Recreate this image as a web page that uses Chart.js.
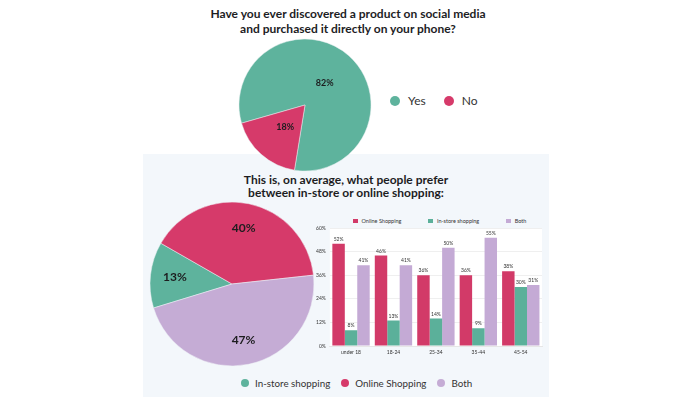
<!DOCTYPE html>
<html lang="en">
<head>
    <title>Social shopping</title>
    <script src="https://cdn.jsdelivr.net/npm/chart.js"></script>
    <style>
        body { margin: 0; background: #fff; font-family: Lato, sans-serif; color: #1d1d1f; }
        .box { position: absolute; }
        .title { position: absolute; text-align: center; font-weight: 700; }
        .legend { position: absolute; display: flex; align-items: center; color: #333; white-space: nowrap; }
        .legend span.dot { display: inline-block; }
    </style>
</head>
<body>
    <div class="box" style="left:143px;top:154px;width:406px;height:243px;background:#f3f7fb;"></div>

    <div class="title" style="left:148px;top:6px;width:400px;font-size:12px;line-height:15px;">
        Have you ever discovered a product on social media<br>and purchased it directly on your phone?
    </div>
    <div class="title" style="left:146px;top:173px;width:400px;font-size:12px;line-height:13px;">
        This is, on average, what people prefer<br>between in-store or online shopping:
    </div>

    <canvas id="pie1" class="box" width="140" height="140" style="left:235px;top:35px;"></canvas>
    <div id="legend1" class="legend" style="left:390px;top:93px;font-size:12px;"></div>

    <canvas id="pie2" class="box" width="174" height="174" style="left:145px;top:197px;"></canvas>
    <div id="legend3" class="legend" style="left:353px;top:217px;font-size:5.5px;line-height:8px;"></div>
    <canvas id="bars" class="box" width="236" height="137" style="left:312px;top:221px;"></canvas>
    <div id="legend2" class="legend" style="left:241px;top:377px;font-size:9.8px;"></div>

    <script>
        // top pie
        const answerLabels = ['Yes', 'No'];
        const answerValues = [82, 18];
        const answerColors = ['#5eb39d', '#d63a6a'];

        // bottom pie
        const preferLabels = ['In-store shopping', 'Online Shopping', 'Both'];
        const preferValues = [13, 40, 47];
        const preferColors = ['#5eb39d', '#d63a6a', '#c5acd5'];

        // bar chart
        const ageGroups = ['under 18', '18-24', '25-34', '35-44', '45-54'];
        const barSeries = ['Online Shopping', 'In-store shopping', 'Both'];
        const barColors = ['#d23a68', '#5bb09a', '#c4aad5'];
        const onlineValues = [52, 46, 36, 36, 38];
        const instoreValues = [8, 13, 14, 9, 30];
        const bothValues = [41, 41, 50, 55, 31];
        const yTicks = [0, 12, 24, 36, 48, 60];

        const pieLabels = {
            id: 'pieLabels',
            afterDatasetsDraw(chart, args, opts) {
                const ctx = chart.ctx;
                const meta = chart.getDatasetMeta(0);
                ctx.save();
                ctx.font = 'bold ' + opts.size + 'px Lato, sans-serif';
                ctx.fillStyle = '#1d1d1f';
                ctx.textAlign = 'center';
                ctx.textBaseline = 'middle';
                meta.data.forEach((arc, i) => {
                    const mid = (arc.startAngle + arc.endAngle) / 2;
                    const r = arc.outerRadius * opts.at;
                    ctx.fillText(chart.data.datasets[0].data[i] + '%', arc.x + Math.cos(mid) * r, arc.y + Math.sin(mid) * r);
                });
                ctx.restore();
            }
        };

        const barLabels = {
            id: 'barLabels',
            afterDatasetsDraw(chart) {
                const ctx = chart.ctx;
                ctx.save();
                ctx.font = '5px Lato, sans-serif';
                ctx.fillStyle = '#333';
                ctx.textAlign = 'center';
                ctx.textBaseline = 'bottom';
                chart.data.datasets.forEach((ds, d) => {
                    chart.getDatasetMeta(d).data.forEach((bar, i) => {
                        ctx.fillText(ds.data[i] + '%', bar.x, bar.y - 2);
                    });
                });
                ctx.restore();
            }
        };

        const plotBackground = {
            id: 'plotBackground',
            beforeDraw(chart) {
                const a = chart.chartArea;
                chart.ctx.save();
                chart.ctx.fillStyle = '#ffffff';
                chart.ctx.fillRect(a.left, a.top, a.right - a.left, a.bottom - a.top);
                chart.ctx.restore();
            }
        };

        function htmlLegend(id, labels, colors, dot, gap, round) {
            const el = document.getElementById(id);
            labels.forEach((l, i) => {
                const item = document.createElement('span');
                item.style.display = 'inline-flex';
                item.style.alignItems = 'center';
                item.style.marginRight = gap + 'px';
                item.innerHTML = '<span class="dot" style="width:' + dot + 'px;height:' + dot + 'px;background:' + colors[i] +
                    ';border-radius:' + (round ? '50%' : '0') + ';margin-right:' + Math.round(dot * 0.8) + 'px"></span>' + l;
                el.appendChild(item);
            });
        }

        new Chart(document.getElementById('pie1'), {
            type: 'pie',
            data: {
                labels: answerLabels,
                datasets: [{ data: answerValues, backgroundColor: answerColors, borderColor: '#e8eef0', borderWidth: 0.5, radius: 66, hoverOffset: 0 }]
            },
            options: {
                responsive: false,
                animation: false,
                rotation: 254,
                plugins: { legend: { display: false }, tooltip: { enabled: false }, pieLabels: { size: 9, at: 0.45 } }
            },
            plugins: [pieLabels]
        });

        new Chart(document.getElementById('pie2'), {
            type: 'pie',
            data: {
                labels: preferLabels,
                datasets: [{ data: preferValues, backgroundColor: preferColors, borderColor: '#eef2f6', borderWidth: 0.5, radius: 82, hoverOffset: 0 }]
            },
            options: {
                responsive: false,
                animation: false,
                rotation: 253,
                plugins: { legend: { display: false }, tooltip: { enabled: false }, pieLabels: { size: 12, at: 0.7 } }
            },
            plugins: [pieLabels]
        });

        new Chart(document.getElementById('bars'), {
            type: 'bar',
            data: {
                labels: ageGroups,
                datasets: [
                    { label: barSeries[0], data: onlineValues, backgroundColor: barColors[0] },
                    { label: barSeries[1], data: instoreValues, backgroundColor: barColors[1] },
                    { label: barSeries[2], data: bothValues, backgroundColor: barColors[2] }
                ]
            },
            options: {
                responsive: false,
                animation: false,
                datasets: { bar: { categoryPercentage: 0.88, barPercentage: 1 } },
                layout: { padding: { right: 6, top: 2 } },
                scales: {
                    x: {
                        grid: { display: false, drawTicks: false },
                        border: { color: '#e6e6e6' },
                        ticks: { font: { size: 5, family: 'Lato' }, color: '#333', padding: 3 }
                    },
                    y: {
                        min: 0,
                        max: 60,
                        afterBuildTicks: axis => { axis.ticks = yTicks.map(v => ({ value: v })); },
                        grid: { color: '#efefef', drawTicks: false },
                        border: { display: false },
                        ticks: { font: { size: 5, family: 'Lato' }, color: '#333', padding: 4, callback: v => v + '%' }
                    }
                },
                plugins: {
                    tooltip: { enabled: false },
                    legend: { display: false }
                }
            },
            plugins: [plotBackground, barLabels]
        });

        htmlLegend('legend1', answerLabels, answerColors, 10, 18, true);
        htmlLegend('legend2', preferLabels, preferColors, 8, 11, true);
        htmlLegend('legend3', barSeries, barColors, 4.5, 27, false);
    </script>
</body>
</html>
